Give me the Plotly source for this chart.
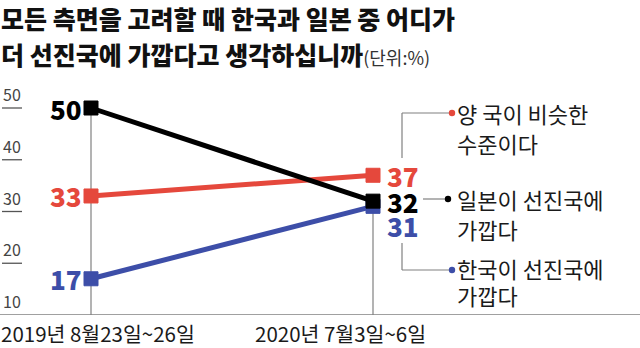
import plotly.graph_objects as go

# Survey: which country is closer to being an advanced nation (unit: %)
periods = ["2019년 8월23일~26일", "2020년 7월3일~6일"]
series_names = ["양 국이 비슷한<br>수준이다", "한국이 선진국에<br>가깝다", "일본이 선진국에<br>가깝다"]
similar = [33, 37]
korea = [17, 31]
japan = [50, 32]
y_ticks = [10, 20, 30, 40, 50]

RED = "#e5483c"
BLUE = "#3d4ea8"
BLACK = "#000000"
TXT = "#1a1a1a"
GRAY = "#808080"
FONT = "Noto Sans CJK KR"

W, H = 640, 348
MB = 33
PLOT_H = H - MB
XPOS = [0, 1]
# axis ranges chosen so that the first period sits at ~91px and the second at ~373px
X0 = -91 / 282
X1 = X0 + W / 282
Y0 = 10
Y1 = Y0 + PLOT_H / 5.175


def dx(px):
    return X0 + px / W * (X1 - X0)


def dy(py):
    return Y1 - py / PLOT_H * (Y1 - Y0)


fig = go.Figure()

# vertical guide lines at each survey period
fig.add_shape(type="line", xref="x", yref="y", x0=XPOS[0], x1=XPOS[0],
              y0=Y0, y1=max(japan[0], similar[0], korea[0]),
              line=dict(color=GRAY, width=1.2), layer="below")
fig.add_shape(type="line", xref="x", yref="y", x0=XPOS[1], x1=XPOS[1],
              y0=Y0, y1=max(japan[1], similar[1], korea[1]) - 5,
              line=dict(color=GRAY, width=1.2), layer="below")

for vals, color in [(similar, RED), (korea, BLUE), (japan, BLACK)]:
    fig.add_trace(go.Scatter(
        x=XPOS, y=vals, mode="lines+markers",
        line=dict(color=color, width=5),
        marker=dict(symbol="square", size=14, color=color,
                    line=dict(color=color, width=1)),
        hoverinfo="skip", showlegend=False,
    ))

# value labels
label_font = dict(family=FONT, size=26, weight=900)
for vals, color, yshift_end in [(japan, BLACK, 0), (similar, RED, 0), (korea, BLUE, -19)]:
    fig.add_annotation(x=XPOS[0], y=vals[0], text=str(vals[0]), showarrow=False,
                       xanchor="right", yanchor="middle", xshift=-8, borderpad=0,
                       font=dict(color=color, **label_font))
    fig.add_annotation(x=XPOS[1], y=vals[1], text=str(vals[1]), showarrow=False,
                       xanchor="left", yanchor="middle", xshift=13, yshift=yshift_end, borderpad=0,
                       font=dict(color=color, **label_font))

# connectors to the series descriptions
conn = dict(color=GRAY, width=1.2)
fig.add_shape(type="line", xref="x", yref="y", x0=dx(402), x1=dx(402), y0=dy(158), y1=dy(113), line=conn)
fig.add_shape(type="line", xref="x", yref="y", x0=dx(402), x1=dx(452), y0=dy(113), y1=dy(113), line=conn)
fig.add_shape(type="line", xref="x", yref="y", x0=dx(423), x1=dx(448), y0=dy(199), y1=dy(199), line=conn)
fig.add_shape(type="line", xref="x", yref="y", x0=dx(402), x1=dx(402), y0=dy(243), y1=dy(270), line=conn)
fig.add_shape(type="line", xref="x", yref="y", x0=dx(402), x1=dx(452), y0=dy(270), y1=dy(270), line=conn)

for cx, cy, color in [(452, 113, RED), (448, 199, BLACK), (452, 270, BLUE)]:
    fig.add_shape(type="circle", xref="x", yref="y",
                  x0=dx(cx - 3.2), x1=dx(cx + 3.2), y0=dy(cy - 3.2), y1=dy(cy + 3.2),
                  line=dict(color=color, width=0), fillcolor=color)

desc_font = dict(family=FONT, size=22, color=TXT)
for name, tops in [(series_names[0], (113, 143)), (series_names[2], (199, 229)), (series_names[1], (268, 295))]:
    for line_text, py in zip(name.split("<br>"), tops):
        fig.add_annotation(x=dx(456), y=dy(py), text=line_text, showarrow=False,
                           xanchor="left", yanchor="middle", borderpad=0, font=desc_font)

# y tick labels with short underlines
for v in y_ticks:
    fig.add_annotation(xref="paper", x=0.002, y=v, text=str(v), showarrow=False,
                       xanchor="left", yanchor="bottom", yshift=0,
                       font=dict(family=FONT, size=16, color="#444444"))
    if v != y_ticks[0]:
        fig.add_shape(type="line", xref="paper", yref="y", x0=2 / W, x1=22 / W, y0=v, y1=v,
                      line=dict(color="#555555", width=1.3))

# baseline
fig.add_shape(type="line", xref="paper", yref="y", x0=0, x1=1, y0=Y0, y1=Y0,
              line=dict(color=GRAY, width=1.4))

# period labels
fig.add_annotation(xref="paper", x=0, y=Y0, text=periods[0], showarrow=False, xanchor="left",
                   yanchor="top", yshift=-2, borderpad=0, font=dict(family=FONT, size=20.5, color=TXT))
fig.add_annotation(x=XPOS[1], y=Y0, text=periods[1], showarrow=False, xanchor="center",
                   yanchor="top", yshift=-2, xshift=-33, borderpad=0, font=dict(family=FONT, size=20.5, color=TXT))

# title
title_font = dict(family=FONT, size=25, color="#111111", weight=900)
fig.add_annotation(xref="paper", yref="paper", x=0, y=1, yshift=1,
                   text="모든 측면을 고려할 때 한국과 일본 중 어디가",
                   showarrow=False, xanchor="left", yanchor="top", borderpad=0,
                   font=title_font)
fig.add_annotation(xref="paper", yref="paper", x=0, y=1 - 54 / PLOT_H,
                   text="더 선진국에 가깝다고 생각하십니까<span style='font-size:18px;font-weight:400;color:#333333'>(단위:%)</span>",
                   showarrow=False, xanchor="left", yanchor="middle", borderpad=0,
                   font=title_font)

fig.update_layout(
    width=W, height=H,
    margin=dict(l=0, r=0, t=0, b=MB),
    paper_bgcolor="white", plot_bgcolor="white",
    xaxis=dict(range=[X0, X1], visible=False, fixedrange=True),
    yaxis=dict(range=[Y0, Y1], visible=False, fixedrange=True),
    showlegend=False,
)

fig.write_html("out.html", config={"displayModeBar": False})
